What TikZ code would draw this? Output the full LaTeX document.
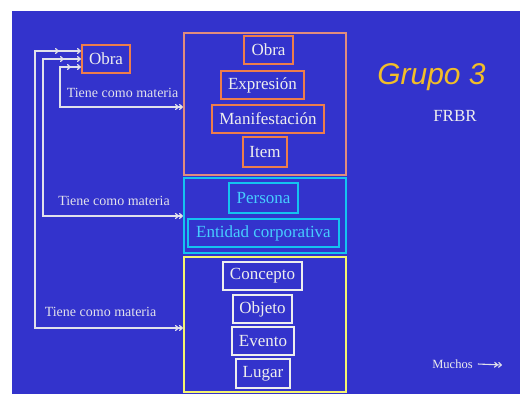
\documentclass[tikz,border=0pt]{standalone}
\usepackage{fontspec}
\setmainfont{Liberation Serif}
\newfontfamily\grfont{Liberation Sans}
\usetikzlibrary{arrows.meta,decorations.markings}
\definecolor{bgblue}{RGB}{51,51,204}
\definecolor{orangeA}{RGB}{238,125,75}
\definecolor{salmon}{RGB}{225,140,125}
\definecolor{cyanA}{RGB}{20,195,240}
\definecolor{cyanT}{RGB}{70,205,255}
\definecolor{yellowA}{RGB}{245,245,110}
\definecolor{whiteA}{RGB}{238,238,238}
\definecolor{lineW}{RGB}{225,225,235}
\definecolor{grupo}{RGB}{242,190,40}
\tikzset{
  x=1pt,y=-1pt,
  lbl/.style={font=\fontsize{17}{20}\selectfont, inner sep=0pt, line width=2.2pt},
  obox/.style={lbl, draw=orangeA, text=whiteA, minimum height=28},
  cbox/.style={lbl, draw=cyanA, text=cyanT, minimum height=28},
  wbox/.style={lbl, draw=whiteA, text=whiteA, minimum height=28},
  bigbox/.style={draw=#1, line width=2pt, inner sep=0pt},
  tiene/.style={font=\fontsize{14}{16}\selectfont, text=lineW, inner sep=0pt},
  conn/.style={draw=lineW, line width=1.2pt, {To[length=4pt,width=6pt]}-{To[length=4pt,width=6pt]To[length=4pt,width=6pt]}},
  midtip/.style={decoration={markings, mark=at position #1 with {\arrowreversed[lineW]{To[length=4pt,width=6pt]}}}, postaction={decorate}}
}
\begin{document}
\begin{tikzpicture}
\useasboundingbox (0,0) rectangle (520,394);
\fill[bgblue] (12,11) rectangle (520,394);
% big boxes
\node[bigbox=salmon, minimum width=162, minimum height=142] (obig) at (265,104) {};
\node[bigbox=cyanA, minimum width=162, minimum height=75] (cbig) at (265,215.5) {};
\node[bigbox=yellowA, minimum width=162, minimum height=135] (ybig) at (265,324.5) {};
% group 1
\node[obox, minimum width=49] (obra) at (268.5,50) {Obra};
\node[obox, minimum width=83] (expr) at (262.5,85) {Expresión};
\node[obox, minimum width=112] (manif) at (268,119) {Manifestación};
\node[obox, minimum width=44, minimum height=30] (item) at (265,152) {Item};
% group 2
\node[cbox, minimum width=69, minimum height=30] (pers) at (263.5,198) {Persona};
\node[cbox, minimum width=151] (ent) at (263.5,233) {Entidad corporativa};
% group 3
\node[wbox, minimum width=79] (conc) at (262.5,276) {Concepto};
\node[wbox, minimum width=59] (obj) at (262.5,309) {Objeto};
\node[wbox, minimum width=62] (evt) at (263,341) {Evento};
\node[wbox, minimum width=54, minimum height=29] (lug) at (263,373.5) {Lugar};
% left Obra
\node[obox, minimum width=48] (obraL) at (106,59) {Obra};
% corners
\coordinate (a1) at (60,67);  \coordinate (b1) at (60,107);
\coordinate (a2) at (43,59);  \coordinate (b2) at (43,216);
\coordinate (a3) at (35,51);  \coordinate (b3) at (35,328);
\path[conn, midtip=10pt] (obraL.west |- a1) -- (a1) -- (b1) -- (b1 -| obig.west);
\path[conn, midtip=17pt] (obraL.west |- a2) -- (a2) -- (b2) -- (b2 -| cbig.west);
\path[conn, midtip=22pt] (obraL.west |- a3) -- (a3) -- (b3) -- (b3 -| ybig.west);
% labels
\node[tiene] (t1) at (122.5,93) {Tiene como materia};
\node[tiene] (t2) at (114,201) {Tiene como materia};
\node[tiene] (t3) at (100.5,312) {Tiene como materia};
% title
\node[font=\grfont\itshape\fontsize{30}{34}\selectfont, text=grupo, inner sep=0pt] (grp) at (431.5,77) {Grupo 3};
\node[font=\fontsize{17}{20}\selectfont, text=whiteA, inner sep=0pt] (frbr) at (455,116) {FRBR};
% legend
\node[font=\fontsize{12.5}{14}\selectfont, text=whiteA, inner sep=0pt] (much) at (452.5,364) {Muchos};
\coordinate (mu) at (502,365);
\draw[draw=lineW, line width=1.1pt, -{To[length=4pt,width=6pt]To[length=4pt,width=6pt]}] ([xshift=5pt]much.east) -- (mu);
\end{tikzpicture}
\end{document}
